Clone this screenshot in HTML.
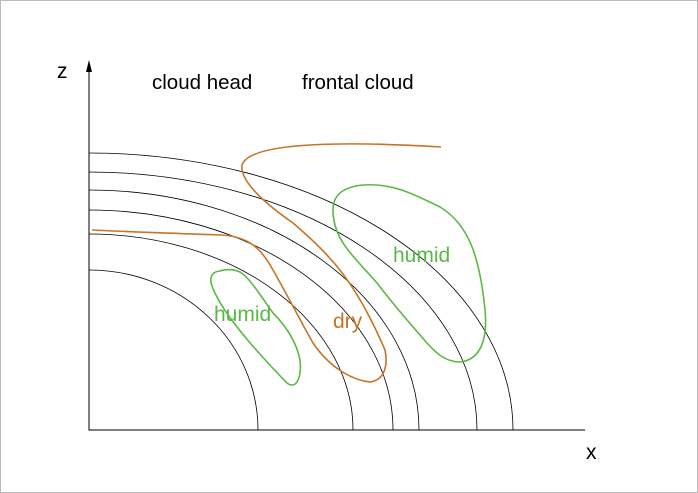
<!DOCTYPE html>
<html><head><style>body{margin:0;background:#fff}</style></head><body>
<svg width="698" height="493" xmlns="http://www.w3.org/2000/svg" style="display:block">
<rect x="0.5" y="0.5" width="697" height="492" fill="#fff" stroke="#bbb"/>
<g fill="none" stroke="#000" stroke-width="0.8">
<path d="M89 153 A424 277 0 0 1 513 430"/>
<path d="M89 172 A388 258 0 0 1 477 430"/>
<path d="M89 190 A330 240 0 0 1 419 430"/>
<path d="M89 210 A304 220 0 0 1 393 430"/>
<path d="M89 234 A264 196 0 0 1 353 430"/>
<path d="M89 270 A169 160 0 0 1 258 430"/>
<path d="M89 68 V430 H585" stroke-width="1"/>
</g>
<path d="M86 72 L89 60 L92 72 Z" fill="#000"/>
<g fill="none" stroke="#c87428" stroke-width="1.6">
<path d="M441 147 C360 142 250 140 242 165 C240 180 260 200 293 223 C330 255 355 280 385 350 C388 365 385 380 370 382 C352 380 330 368 313 343 C300 320 290 300 273 270 C262 250 250 236 220 235 C170 233 130 232 92 230"/>
</g>
<g fill="none" stroke="#5cb845" stroke-width="1.6">
<path d="M220 271 C210 272 208 280 215 293 C225 315 250 345 287 383 C296 390 302 378 300 360 C296 340 285 325 273 313 C260 295 250 278 240 272 C233 269 226 269 220 271 Z"/>
<path d="M363 185 C390 183 410 192 440 207 C470 225 480 260 485 310 C488 340 480 360 460 362 C445 362 435 352 427 343 C405 318 390 300 377 283 C355 258 340 245 335 225 C330 205 332 188 363 185 Z"/>
</g>
<g font-family="Liberation Sans, sans-serif" font-size="20.5">
<text x="57" y="78" font-size="21">z</text>
<text x="586" y="459" font-size="21">x</text>
<text x="152" y="89">cloud head</text>
<text x="302" y="89">frontal cloud</text>
<text x="393" y="262" fill="#5cb845" font-size="21">humid</text>
<text x="214" y="321" fill="#5cb845" font-size="21">humid</text>
<text x="333" y="328" fill="#c87428" font-size="21">dry</text>
</g>
</svg>
</body></html>
